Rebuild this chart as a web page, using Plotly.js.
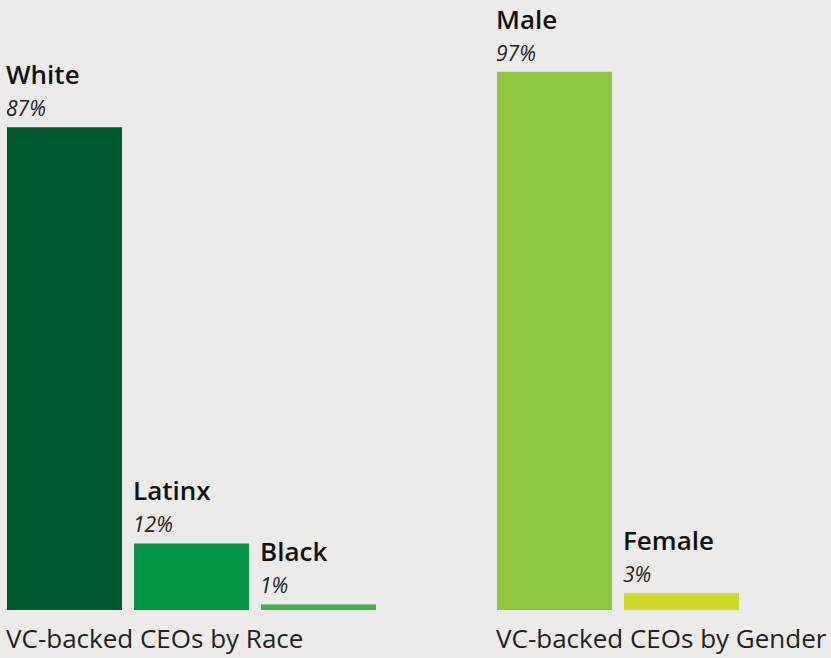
<!DOCTYPE html>
<html>
<head>
<meta charset="utf-8">
<script src="https://cdn.plot.ly/plotly-3.0.1.min.js"></script>
<style>html,body{margin:0;padding:0;background:#ECEBE9;}#chart{width:831px;height:658px;}</style>
</head>
<body>
<div id="chart"></div>
<script>
const raceCategories = ["White", "Latinx", "Black"];
const raceValues = [87, 12, 1];
const raceColors = ["#005A30", "#009444", "#39B54A"];
const genderCategories = ["Male", "Female"];
const genderValues = [97, 3];
const genderColors = ["#8DC63F", "#CDDA29"];
const raceTitle = "VC-backed CEOs by Race";
const genderTitle = "VC-backed CEOs by Gender";

const FONT = "'Open Sans', Lato, sans-serif";

const traces = [
  {type: "bar", x: raceCategories, y: raceValues, marker: {color: raceColors}, xaxis: "x", yaxis: "y", hoverinfo: "none"},
  {type: "bar", x: genderCategories, y: genderValues, marker: {color: genderColors}, xaxis: "x2", yaxis: "y2", hoverinfo: "none"}
];

const annotations = [];
function addLabels(cats, vals, xr, yr) {
  cats.forEach((c, i) => {
    annotations.push({x: c, y: vals[i], xref: xr, yref: yr, xanchor: "left", yanchor: "middle",
      xshift: -60.5, yshift: 53, showarrow: false, text: c,
      font: {family: FONT, size: 26, color: "#111", weight: 600}});
    annotations.push({x: c, y: vals[i], xref: xr, yref: yr, xanchor: "left", yanchor: "middle",
      xshift: -60.5, yshift: 19, showarrow: false, text: "<i>" + vals[i] + "%</i>",
      font: {family: FONT, size: 21, color: "#222", weight: 400}});
  });
}
addLabels(raceCategories, raceValues, "x", "y");
addLabels(genderCategories, genderValues, "x2", "y2");
annotations.push({x: 0, xref: "x domain", y: -48 / 555, yref: "paper", xanchor: "left", yanchor: "bottom",
  xshift: 3, showarrow: false, text: raceTitle, font: {family: FONT, size: 26, color: "#222", weight: 400}});
annotations.push({x: 0, xref: "x2 domain", y: -48 / 555, yref: "paper", xanchor: "left", yanchor: "bottom",
  xshift: 3, showarrow: false, text: genderTitle, font: {family: FONT, size: 26, color: "#222", weight: 400}});

const axisCommon = {showgrid: false, zeroline: false, showticklabels: false, showline: false, ticks: "", fixedrange: true};

const layout = {
  width: 831, height: 658,
  margin: {l: 0, r: 0, t: 55, b: 48, pad: 0},
  paper_bgcolor: "#ECEBE9", plot_bgcolor: "#ECEBE9",
  showlegend: false,
  bargap: 12 / 127,
  xaxis: Object.assign({domain: [1 / 831, 382 / 831], type: "category"}, axisCommon),
  xaxis2: Object.assign({domain: [491 / 831, 745 / 831], type: "category"}, axisCommon),
  yaxis: Object.assign({range: [0, 100], anchor: "x"}, axisCommon),
  yaxis2: Object.assign({range: [0, 100], anchor: "x2"}, axisCommon),
  annotations: annotations
};

Plotly.newPlot("chart", traces, layout, {displayModeBar: false, staticPlot: true});
</script>
</body>
</html>
